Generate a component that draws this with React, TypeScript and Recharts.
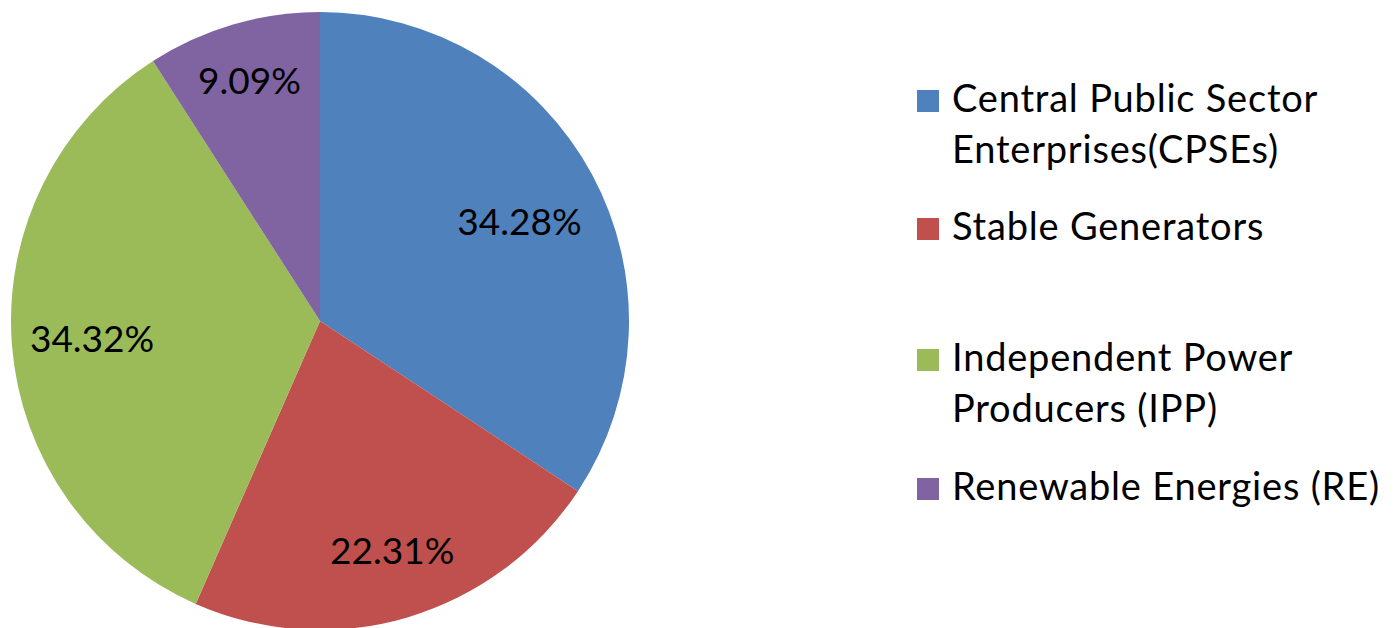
import React from "react";
import { PieChart, Pie, Cell, Legend } from "recharts";

const categories = [
  "Central Public Sector Enterprises(CPSEs)",
  "Stable Generators",
  "Independent Power Producers (IPP)",
  "Renewable Energies (RE)",
];
const legendLines = [
  ["Central Public Sector", "Enterprises(CPSEs)"],
  ["Stable Generators"],
  ["Independent Power", "Producers (IPP)"],
  ["Renewable Energies (RE)"],
];
const shares = [34.28, 22.31, 34.32, 9.09];
const valueLabels = ["34.28%", "22.31%", "34.32%", "9.09%"];
const colors = ["#4F81BD", "#C0504D", "#9BBB59", "#8064A2"];

const data = categories.map((name, i) => ({ name, value: shares[i], label: valueLabels[i] }));

const FONT = "Lato, 'Open Sans', sans-serif";
const RADIAN = Math.PI / 180;

const renderLabel = (props: any) => {
  const { cx, cy, midAngle, outerRadius, index } = props;
  const fracs = [0.72, 0.78, 0.74, 0.81];
  const angOff = [-2, 1, 0, 0];
  const a = (midAngle + angOff[index]) * RADIAN;
  const r = outerRadius * fracs[index];
  const x = cx + r * Math.cos(-a);
  const y = cy + r * Math.sin(-a);
  return (
    <text x={x} y={y + 13} textAnchor="middle" fill="#000" fontFamily={FONT} fontSize={37}>
      {valueLabels[index]}
    </text>
  );
};

const renderLegend = () => {
  const baselines = [112, 240, 371, 500];
  return (
    <svg width={1397} height={628} style={{ position: "absolute", left: 0, top: 0, pointerEvents: "none" }}>
      {categories.map((name, i) => (
        <g key={name}>
          <rect x={917} y={baselines[i] - 22} width={22} height={22} fill={colors[i]} />
          {legendLines[i].map((line, j) => (
            <text
              key={j}
              x={952}
              y={baselines[i] + j * 51}
              fill="#000"
              fontFamily={FONT}
              fontSize={38}
              letterSpacing={0.8}
            >
              {line}
            </text>
          ))}
        </g>
      ))}
    </svg>
  );
};

export default function App() {
  return (
    <div style={{ position: "absolute", left: 0, top: 0, width: 1397, height: 628, background: "#fff" }}>
      <PieChart width={1397} height={628} margin={{ top: 0, right: 0, bottom: 0, left: 0 }}>
        <Pie
          data={data}
          dataKey="value"
          nameKey="name"
          cx={320}
          cy={321}
          outerRadius={309}
          startAngle={90}
          endAngle={-270}
          stroke="none"
          label={renderLabel}
          labelLine={false}
          isAnimationActive={false}
        >
          {data.map((d, i) => (
            <Cell key={d.name} fill={colors[i]} stroke="none" />
          ))}
        </Pie>
        <Legend
          content={renderLegend}
          wrapperStyle={{ left: 0, top: 0, width: 1397, height: 628, position: "absolute" }}
        />
      </PieChart>
    </div>
  );
}
